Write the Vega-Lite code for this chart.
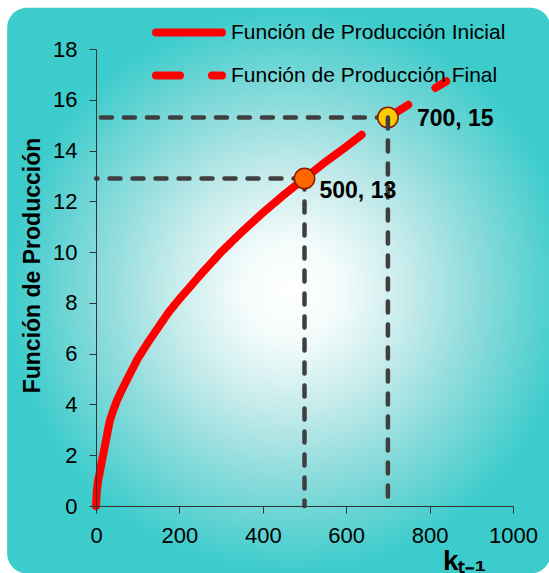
{
  "$schema": "https://vega.github.io/schema/vega-lite/v6.json",
  "width": 417,
  "height": 457,
  "autosize": {"type": "none"},
  "padding": {"left": 96, "top": 49, "right": 36, "bottom": 67},
  "background": "#ffffff",
  "config": {"view": {"stroke": null}, "font": "Liberation Sans"},
  "datasets": {
    "curvas": [
      {"k": 0, "y": 0, "serie": "Función de Producción Inicial"},
      {"k": 2, "y": 0.6, "serie": "Función de Producción Inicial"},
      {"k": 5, "y": 1.0, "serie": "Función de Producción Inicial"},
      {"k": 10, "y": 1.4, "serie": "Función de Producción Inicial"},
      {"k": 15, "y": 1.85, "serie": "Función de Producción Inicial"},
      {"k": 20, "y": 2.25, "serie": "Función de Producción Inicial"},
      {"k": 27, "y": 2.85, "serie": "Función de Producción Inicial"},
      {"k": 33, "y": 3.35, "serie": "Función de Producción Inicial"},
      {"k": 40, "y": 3.7, "serie": "Función de Producción Inicial"},
      {"k": 50, "y": 4.15, "serie": "Función de Producción Inicial"},
      {"k": 60, "y": 4.5, "serie": "Función de Producción Inicial"},
      {"k": 75, "y": 5.0, "serie": "Función de Producción Inicial"},
      {"k": 100, "y": 5.8, "serie": "Función de Producción Inicial"},
      {"k": 125, "y": 6.45, "serie": "Función de Producción Inicial"},
      {"k": 150, "y": 7.05, "serie": "Función de Producción Inicial"},
      {"k": 175, "y": 7.65, "serie": "Función de Producción Inicial"},
      {"k": 200, "y": 8.15, "serie": "Función de Producción Inicial"},
      {"k": 250, "y": 9.1, "serie": "Función de Producción Inicial"},
      {"k": 300, "y": 10.0, "serie": "Función de Producción Inicial"},
      {"k": 350, "y": 10.8, "serie": "Función de Producción Inicial"},
      {"k": 400, "y": 11.55, "serie": "Función de Producción Inicial"},
      {"k": 450, "y": 12.25, "serie": "Función de Producción Inicial"},
      {"k": 500, "y": 12.9, "serie": "Función de Producción Inicial"},
      {"k": 550, "y": 13.55, "serie": "Función de Producción Inicial"},
      {"k": 600, "y": 14.15, "serie": "Función de Producción Inicial"},
      {"k": 637, "y": 14.62, "serie": "Función de Producción Inicial"},
      {"k": 700, "y": 15.3, "serie": "Función de Producción Final"},
      {"k": 770, "y": 16.02, "serie": "Función de Producción Final"},
      {"k": 840, "y": 16.73, "serie": "Función de Producción Final"}
    ],
    "puntos": [
      {"k": 500, "y": 12.9},
      {"k": 700, "y": 15.3}
    ]
  },
  "layer": [
    {
      "data": {"values": [{}]},
      "mark": {
        "type": "rect",
        "cornerRadius": 20,
        "fill": {
          "gradient": "radial",
          "x1": 0.52, "y1": 0.5, "r1": 0,
          "x2": 0.52, "y2": 0.5, "r2": 0.5,
          "stops": [
            {"offset": 0, "color": "#ffffff"},
            {"offset": 0.18, "color": "#f3fbfb"},
            {"offset": 0.42, "color": "#c6ebeb"},
            {"offset": 0.66, "color": "#8edcdc"},
            {"offset": 0.9, "color": "#54d0d0"},
            {"offset": 1, "color": "#3ccccc"}
          ]
        }
      },
      "encoding": {
        "x": {"datum": -213, "type": "quantitative", "scale": {"domain": [0, 1000], "nice": false}},
        "x2": {"datum": 1090},
        "y": {"datum": 19.62, "type": "quantitative", "scale": {"domain": [0, 18], "nice": false}},
        "y2": {"datum": -2.66}
      }
    },
    {
      "data": {"name": "curvas"},
      "mark": {"type": "line", "color": "#FF0000", "strokeWidth": 8, "strokeCap": "round", "strokeJoin": "round"},
      "encoding": {
        "x": {
          "field": "k", "type": "quantitative",
          "scale": {"domain": [0, 1000], "nice": false},
          "axis": {
            "zindex": 1,
            "values": [0, 200, 400, 600, 800, 1000],
            "format": "d",
            "title": "kₜ₋₁",
            "titleFont": "Liberation Sans",
            "titleFontWeight": "bold",
            "titleFontSize": 28,
            "titleColor": "#000000",
            "titleX": 368,
            "titleY": 63.5,
            "titleAlign": "center",
            "titleBaseline": "alphabetic",
            "labelFontSize": 22,
            "labelColor": "#000000",
            "labelPadding": 12,
            "labelFlush": false,
            "labelOverlap": false,
            "tickSize": 7,
            "tickColor": "#333333",
            "domainColor": "#333333",
            "grid": false
          }
        },
        "y": {
          "field": "y", "type": "quantitative",
          "scale": {"domain": [0, 18], "nice": false},
          "axis": {
            "zindex": 1,
            "values": [0, 2, 4, 6, 8, 10, 12, 14, 16, 18],
            "format": "d",
            "title": "Función de Producción",
            "titleFont": "Liberation Sans",
            "titleFontWeight": "bold",
            "titleFontSize": 23,
            "titleColor": "#000000",
            "titleX": -64,
            "titleY": 216,
            "titleAlign": "center",
            "titleBaseline": "middle",
            "labelFontSize": 22,
            "labelColor": "#000000",
            "labelPadding": 12,
            "labelFlush": false,
            "labelOverlap": false,
            "tickSize": 7,
            "tickColor": "#333333",
            "domainColor": "#333333",
            "grid": false
          }
        },
        "strokeDash": {
          "field": "serie", "type": "nominal",
          "scale": {
            "domain": ["Función de Producción Inicial", "Función de Producción Final"],
            "range": [[1, 0], [24, 32]]
          },
          "legend": {
            "title": null,
            "orient": "none",
            "legendX": 56,
            "legendY": -27,
            "padding": 0,
            "symbolType": "stroke",
            "symbolSize": 4356,
            "symbolStrokeWidth": 8,
            "symbolStrokeColor": "#FF0000",
            "labelFont": "Liberation Sans",
            "labelFontSize": 21,
            "labelColor": "#000000",
            "labelOffset": 5,
            "labelLimit": 400,
            "clipHeight": 21,
            "rowPadding": 21,
            "zindex": 1,
            "encode": {"symbols": {"update": {"strokeCap": {"value": "round"}}}}
          }
        }
      }
    },
    {
      "data": {"name": "puntos"},
      "mark": {"type": "rule", "color": "#3f3f3f", "strokeWidth": 4.5, "strokeDash": [11, 12], "strokeCap": "round"},
      "encoding": {
        "x": {"field": "k", "type": "quantitative"},
        "x2": {"datum": 0},
        "y": {"field": "y", "type": "quantitative"}
      }
    },
    {
      "data": {"name": "puntos"},
      "transform": [{"filter": "datum.k == 500"}],
      "mark": {"type": "rule", "color": "#3f3f3f", "strokeWidth": 4.5, "strokeDash": [11, 12], "strokeCap": "round"},
      "encoding": {
        "x": {"field": "k", "type": "quantitative"},
        "y": {"field": "y", "type": "quantitative"},
        "y2": {"datum": 0}
      }
    },
    {
      "data": {"name": "puntos"},
      "mark": {"type": "point", "shape": "circle", "filled": true, "size": 415, "stroke": "#8b1a00", "strokeWidth": 1.5, "opacity": 1},
      "encoding": {
        "x": {"field": "k", "type": "quantitative"},
        "y": {"field": "y", "type": "quantitative"},
        "fill": {
          "field": "k", "type": "nominal",
          "scale": {"domain": [500, 700], "range": ["#FF6600", "#FFCC00"]},
          "legend": null
        }
      }
    },
    {
      "data": {"name": "puntos"},
      "transform": [{"filter": "datum.k == 700"}],
      "mark": {"type": "rule", "color": "#3f3f3f", "strokeWidth": 4.5, "strokeDash": [11, 12], "strokeCap": "round"},
      "encoding": {
        "x": {"field": "k", "type": "quantitative"},
        "y": {"field": "y", "type": "quantitative"},
        "y2": {"datum": 0}
      }
    },
    {
      "data": {"name": "puntos"},
      "transform": [
        {"filter": "datum.k == 500"},
        {"calculate": "datum.k + ', ' + format(datum.y, '.0f')", "as": "etiqueta"}
      ],
      "mark": {"type": "text", "align": "left", "baseline": "middle", "dx": 15, "dy": 13, "font": "Liberation Sans", "fontWeight": "bold", "fontSize": 23, "color": "#000000"},
      "encoding": {
        "x": {"field": "k", "type": "quantitative"},
        "y": {"field": "y", "type": "quantitative"},
        "text": {"field": "etiqueta"}
      }
    },
    {
      "data": {"name": "puntos"},
      "transform": [
        {"filter": "datum.k == 700"},
        {"calculate": "datum.k + ', ' + format(datum.y, '.0f')", "as": "etiqueta"}
      ],
      "mark": {"type": "text", "align": "left", "baseline": "middle", "dx": 29, "dy": 1, "font": "Liberation Sans", "fontWeight": "bold", "fontSize": 23, "color": "#000000"},
      "encoding": {
        "x": {"field": "k", "type": "quantitative"},
        "y": {"field": "y", "type": "quantitative"},
        "text": {"field": "etiqueta"}
      }
    }
  ]
}
